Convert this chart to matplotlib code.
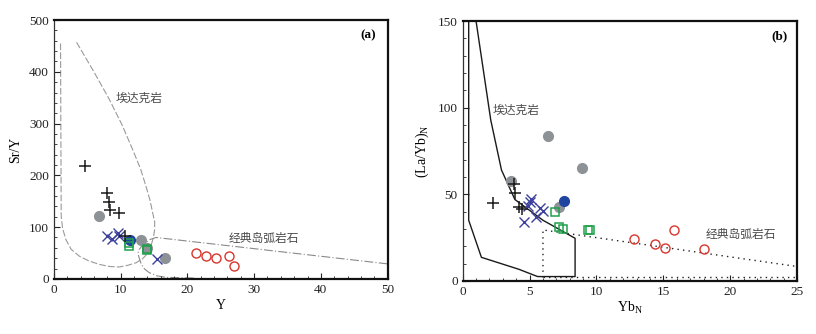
import matplotlib
matplotlib.use("Agg")
import matplotlib.pyplot as plt
from matplotlib.ticker import MultipleLocator

# ---------------- data: panel (a) Sr/Y vs Y ----------------
a_plus_x = [4.6, 7.9, 8.2, 8.4, 9.7, 10.7]
a_plus_y = [219, 165, 149, 133, 128, 83]
a_grey_x = [6.8, 13.1, 16.7, 13.9]
a_grey_y = [122, 75, 41, 60]
a_blue_x = [11.4]
a_blue_y = [76]
a_cross_x = [7.9, 8.7, 9.6, 9.8, 15.5]
a_cross_y = [82, 77, 89, 82, 39]
a_sq_x = [11.2, 11.3, 13.9, 14.0]
a_sq_y = [70, 63, 57, 55]
a_red_x = [21.3, 22.8, 24.3, 26.3, 27.0]
a_red_y = [50, 44, 41, 44, 24]

a_adakite_x = [3.4, 6.0, 8.3, 10.2, 11.8, 13.0, 13.8, 14.4, 14.8, 15.1, 15.1, 14.9,
               14.5, 14.1, 13.3, 12.3, 11.0, 9.8, 8.3, 6.8, 5.2, 3.8, 2.6, 1.8, 1.3, 1.1, 1.0]
a_adakite_y = [457, 400, 347, 298, 250, 212, 179, 152, 128, 110, 95, 79,
               62, 50, 39, 31, 26, 23, 24, 28, 35, 44, 57, 76, 98, 121, 456]
a_arc_x = [50, 15.3, 14.4, 13.8, 13.2, 12.8, 12.6, 12.7, 13.1, 13.6, 14.3, 15.4, 16.8, 21.3]
a_arc_y = [29, 80, 76, 70, 64, 57, 50, 44, 28, 19, 12, 6, 3, 1.5]

# ---------------- data: panel (b) (La/Yb)N vs YbN ----------------
b_plus_x = [2.3, 3.8, 3.9, 4.2, 4.4]
b_plus_y = [44.8, 55.9, 50.5, 42.8, 41.5]
b_grey_x = [6.4, 8.9, 3.6, 7.2]
b_grey_y = [83.5, 65.3, 57.6, 42.8]
b_blue_x = [7.6]
b_blue_y = [46.1]
b_cross_x = [5.1, 5.0, 4.9, 5.8, 6.0, 5.5, 4.6]
b_cross_y = [47.3, 45.7, 43.2, 41.9, 40.5, 37.1, 33.8]
b_sq_x = [6.9, 7.2, 7.5, 9.4, 9.5]
b_sq_y = [39.6, 31.3, 29.8, 29.4, 29.4]
b_red_x = [12.8, 14.4, 15.1, 15.8, 18.0]
b_red_y = [24.2, 21.1, 18.8, 29.4, 18.2]

b_adakite_x = [1.0, 2.1, 2.9, 3.9, 6.0, 8.4, 8.4, 5.6, 4.2, 1.4, 0.45, 0.45]
b_adakite_y = [150, 92.8, 64, 47, 35, 24.6, 2.5, 2.5, 6.7, 13.6, 35, 150]
b_arc_x = [6.0, 6.0, 25]
b_arc_y = [2.0, 29.4, 8.3]
b_base_x = [6.0, 25]
b_base_y = [2.0, 2.0]

SERIF = "Liberation Serif"
CJK = "Noto Sans CJK SC"
TXT = "#4a4a4a"

fig = plt.figure(figsize=(8.16, 3.34), dpi=100)
axA = fig.add_axes([0.066, 0.165, 0.409, 0.775])
axB = fig.add_axes([0.567, 0.159, 0.410, 0.778])


def style(ax, xmaj, xmin, ymaj, ymin):
    ax.xaxis.set_major_locator(MultipleLocator(xmaj))
    ax.xaxis.set_minor_locator(MultipleLocator(xmin))
    ax.yaxis.set_major_locator(MultipleLocator(ymaj))
    ax.yaxis.set_minor_locator(MultipleLocator(ymin))
    ax.tick_params(which="both", direction="in", top=False, right=False,
                   labelsize=9.5, colors="#222222")
    ax.tick_params(which="major", length=4, width=0.8)
    ax.tick_params(which="minor", length=2.5, width=0.6)
    for lab in ax.get_xticklabels() + ax.get_yticklabels():
        lab.set_family(SERIF)
    for side in ["top", "right", "bottom"]:
        ax.spines[side].set_linewidth(1.6)
        ax.spines[side].set_color("#111111")
    ax.spines["left"].set_linewidth(0.9)
    ax.spines["left"].set_color("#333333")


def scatter(ax, px, py, gx, gy, bx, by, cx, cy, sx, sy, rx, ry):
    ax.plot(gx, gy, "o", ms=7, color="#8d9297", mec="#8d9297", zorder=3)
    ax.plot(rx, ry, "o", ms=6.5, mfc="none", mec="#d8352d", mew=1.0, zorder=3)
    ax.plot(cx, cy, "x", ms=6.5, color="#3c3f9c", mew=1.0, zorder=4)
    ax.plot(sx, sy, "s", ms=6, mfc="none", mec="#20a04c", mew=1.1, zorder=5)
    ax.plot(bx, by, "o", ms=7, color="#1f45a0", zorder=4)
    ax.plot(px, py, "+", ms=9, color="#1a1a1a", mew=1.1, zorder=5)


# ---- panel (a)
axA.plot(a_adakite_x, a_adakite_y, color="#9a9a9a", lw=0.8, ls=(0, (6, 2)), zorder=1)
axA.plot(a_arc_x, a_arc_y, color="#8a8a8a", lw=0.8, ls=(0, (8, 2, 1, 2)), zorder=1)
scatter(axA, a_plus_x, a_plus_y, a_grey_x, a_grey_y, a_blue_x, a_blue_y,
        a_cross_x, a_cross_y, a_sq_x, a_sq_y, a_red_x, a_red_y)
axA.set_xlim(0, 50)
axA.set_ylim(0, 500)
style(axA, 10, 2, 100, 20)
axA.set_xlabel("Y", family=SERIF, fontsize=10, labelpad=2)
axA.set_ylabel("Sr/Y", family=SERIF, fontsize=10, labelpad=5)
axA.text(12.8, 349, "埃达克岩", family=CJK, fontsize=8.5, color=TXT, ha="center", va="center")
axA.text(31.5, 78, "经典岛弧岩石", family=CJK, fontsize=8.5, color=TXT, ha="center", va="center")
axA.text(47.1, 470, "(a)", family=SERIF, fontsize=9.5, weight="bold", ha="center", va="center")

# ---- panel (b)
axB.plot(b_adakite_x, b_adakite_y, color="#1a1a1a", lw=1.0, zorder=2)
axB.plot(b_arc_x, b_arc_y, color="#222222", lw=1.0, ls=(0, (1, 3)), zorder=1)
axB.plot(b_base_x, b_base_y, color="#222222", lw=1.0, ls=(0, (1, 3)), zorder=1)
scatter(axB, b_plus_x, b_plus_y, b_grey_x, b_grey_y, b_blue_x, b_blue_y,
        b_cross_x, b_cross_y, b_sq_x, b_sq_y, b_red_x, b_red_y)
axB.set_xlim(0, 25)
axB.set_ylim(0, 150)
style(axB, 5, 1, 50, 10)
axB.set_xlabel("Yb$_\\mathregular{N}$", family=SERIF, fontsize=10, labelpad=1)
axB.set_ylabel("(La/Yb)$_\\mathregular{N}$", family=SERIF, fontsize=10, labelpad=5)
axB.text(4.0, 98.7, "埃达克岩", family=CJK, fontsize=8.5, color=TXT, ha="center", va="center")
axB.text(20.8, 26.9, "经典岛弧岩石", family=CJK, fontsize=8.5, color=TXT, ha="center", va="center")
axB.text(23.7, 141, "(b)", family=SERIF, fontsize=9.5, weight="bold", ha="center", va="center")

fig.savefig("out.png", dpi=100, facecolor="white")
